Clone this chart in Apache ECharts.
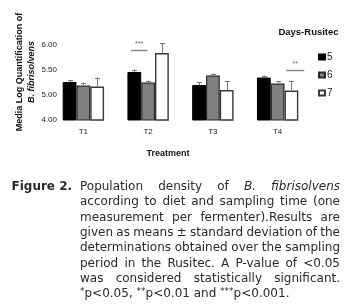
<!DOCTYPE html>
<html><head><meta charset="utf-8">
<script src="https://cdn.jsdelivr.net/npm/echarts@6/dist/echarts.min.js"></script>
<style>html,body{margin:0;padding:0;background:#fff}#c{width:346px;height:306px}</style>
</head><body><div id="c"></div>
<script>
// ---- data ----
const categories = ['T1', 'T2', 'T3', 'T4'];
const seriesNames = ['5', '6', '7'];
const day5 = [5.26, 5.46, 5.20, 5.35];
const day6 = [5.19, 5.25, 5.39, 5.23];
const day7 = [5.17, 5.84, 5.10, 5.09];
const sd5 = [0.04, 0.05, 0.06, 0.04];
const sd6 = [0.04, 0.04, 0.04, 0.04];
const sd7 = [0.18, 0.19, 0.18, 0.20];
const yTicks = [4.5, 5.0, 5.5, 6.0];
const yTickLabels = ['4.00', '5.00', '5.50', '6.00']; // original axis is broken below 5.00
const sigCats = ['T2', 'T4'];
const sigLabels = ['***', '**'];
const sigLevels = [5.89, 5.49];

// ---- styles ----
const FONT = '"Liberation Sans", Arial, sans-serif';
const CAP_FONT = '"DejaVu Sans", Verdana, sans-serif';
const BAR_W = 13.8;
const sigSpan = [[-17.3, -0.7], [8.6, 26.6]];
const barStyles = [
  { color: '#000000', borderColor: '#000000', borderWidth: 1 },
  { color: '#808080', borderColor: '#2a2a2a', borderWidth: 1.2 },
  { color: '#ffffff', borderColor: '#3a3a3a', borderWidth: 1.4 }
];
const values = [day5, day6, day7];
const sds = [sd5, sd6, sd7];

const chart = echarts.init(document.getElementById('c'), null, { renderer: 'canvas' });

const errData = [];
values.forEach((arr, s) => arr.forEach((v, i) => errData.push([i, v, sds[s][i], s - 1])));

const series = values.map((arr, s) => ({
  name: seriesNames[s], type: 'bar', data: arr, barWidth: BAR_W, barGap: '0%',
  itemStyle: barStyles[s], z: 2
}));
series.push({
  type: 'custom', data: errData, z: 3, silent: true,
  renderItem: (params, api) => {
    const i = api.value(0), v = api.value(1), sd = api.value(2), off = api.value(3);
    const p0 = api.coord([i, v]), p1 = api.coord([i, v + sd]);
    const x = Math.round(p0[0] + off * BAR_W) + 0.5;
    return { type: 'group', children: [
      { type: 'line', shape: { x1: x, y1: p0[1], x2: x, y2: p1[1] }, style: { stroke: '#7a7a7a', lineWidth: 1 } },
      { type: 'line', shape: { x1: x - 2.5, y1: Math.round(p1[1]) + 0.5, x2: x + 2.5, y2: Math.round(p1[1]) + 0.5 }, style: { stroke: '#7a7a7a', lineWidth: 1 } }
    ]};
  }
});
series.push({
  type: 'custom', data: sigCats.map((c, k) => [categories.indexOf(c), sigLevels[k]]), z: 4, silent: true,
  renderItem: (params, api) => {
    const k = params.dataIndex;
    const c = api.coord([api.value(0), api.value(1)]);
    const sp = sigSpan[k];
    return { type: 'group', children: [
      { type: 'line', shape: { x1: c[0] + sp[0], y1: c[1], x2: c[0] + sp[1], y2: c[1] }, style: { stroke: '#8a8a8a', lineWidth: 1.5 } },
      { type: 'text', style: { text: sigLabels[k], x: c[0] + (sp[0] + sp[1]) / 2, y: c[1] - 6, align: 'center', verticalAlign: 'middle', fill: '#666', font: '7px ' + FONT } }
    ]};
  }
});

// caption
const capLines = [
  [['Population'], ['density'], ['of'], ['B.', 1], ['fibrisolvens', 1]],
  [['according'], ['to'], ['diet'], ['and'], ['sampling'], ['time'], ['(one']],
  [['measurement'], ['per'], ['fermenter).Results'], ['are']],
  [['given'], ['as'], ['means'], ['±'], ['standard'], ['deviation'], ['of'], ['the']],
  [['determinations'], ['obtained'], ['over'], ['the'], ['sampling']],
  [['period'], ['in'], ['the'], ['Rusitec.'], ['A'], ['P-value'], ['of'], ['<0.05']],
  [['was'], ['considered'], ['statistically'], ['significant.']]
];
const CAP_SIZE = 12, CAP_X0 = 80, CAP_X1 = 340, CAP_Y0 = 187, CAP_LH = 15.3;
const cv = document.createElement('canvas').getContext('2d');
const graphics = [];
capLines.forEach((words, li) => {
  const fonts = words.map(w => (w[1] ? 'italic ' : '') + CAP_SIZE + 'px ' + CAP_FONT);
  const widths = words.map((w, k) => { cv.font = fonts[k]; return cv.measureText(w[0]).width; });
  const sum = widths.reduce((a, b) => a + b, 0);
  const gap = Math.max(3, (CAP_X1 - CAP_X0 - sum) / (words.length - 1));
  let x = CAP_X0;
  words.forEach((w, k) => {
    graphics.push({ type: 'text', x: x, y: CAP_Y0 + li * CAP_LH,
      style: { text: w[0], font: fonts[k], fill: '#2a2a2a', verticalAlign: 'middle', align: 'left' } });
    x += widths[k] + gap;
  });
});
graphics.push({ type: 'text', x: CAP_X0, y: CAP_Y0 + 7 * CAP_LH,
  style: { text: '{s|*}p<0.05, {s|**}p<0.01 and {s|***}p<0.001.', verticalAlign: 'middle', align: 'left',
    font: CAP_SIZE + 'px ' + CAP_FONT, fill: '#2a2a2a',
    rich: { s: { fontSize: 9, fontFamily: CAP_FONT, fill: '#2a2a2a', verticalAlign: 'top', lineHeight: 14 } } } });
graphics.push({ type: 'text', x: 11.5, y: CAP_Y0,
  style: { text: 'Figure 2.', font: 'bold 12px ' + CAP_FONT, fill: '#2a2a2a', verticalAlign: 'middle' } });
graphics.push({ type: 'text', x: 25.5, y: 72, rotation: Math.PI / 2,
  style: { text: '{a|Media Log Quantification of}\n{b|B. fibrisolvens}', align: 'center', verticalAlign: 'middle',
    rich: { a: { font: 'bold 9px ' + FONT, fill: '#111', lineHeight: 12 }, b: { font: 'italic bold 9px ' + FONT, fill: '#111', lineHeight: 12 } } } });
graphics.push({ type: 'text', x: 308.5, y: 32,
  style: { text: 'Days-Rusitec', font: 'bold 9.5px ' + FONT, fill: '#111', align: 'center', verticalAlign: 'middle' } });
graphics.push({ type: 'text', x: 168, y: 154,
  style: { text: 'Treatment', font: 'bold 9px ' + FONT, fill: '#111', align: 'center', verticalAlign: 'middle' } });

chart.setOption({
  animation: false,
  backgroundColor: '#ffffff',
  textStyle: { fontFamily: FONT },
  grid: { left: 51, right: 36, top: 45, bottom: 186, containLabel: false },
  legend: {
    data: seriesNames, orient: 'vertical', left: 318, top: 51, itemWidth: 6, itemHeight: 5, itemGap: 6,
    padding: 0, icon: 'rect', textStyle: { fontSize: 10, color: '#222', fontFamily: FONT, lineHeight: 12, padding: [0, 0, 0, -3] }
  },
  xAxis: {
    type: 'category', data: categories,
    axisLine: { show: false }, axisTick: { show: false },
    axisLabel: { fontSize: 8, color: '#222', margin: 8 }
  },
  yAxis: {
    type: 'value', min: yTicks[0], max: yTicks[yTicks.length - 1], interval: 0.5,
    axisLine: { show: false }, axisTick: { show: false }, splitLine: { show: false },
    axisLabel: { fontSize: 8, color: '#222', margin: -6, formatter: v => {
      const k = yTicks.findIndex(t => Math.abs(t - v) < 1e-9); return k >= 0 ? yTickLabels[k] : ''; } }
  },
  graphic: graphics,
  series: series
});
</script></body></html>
